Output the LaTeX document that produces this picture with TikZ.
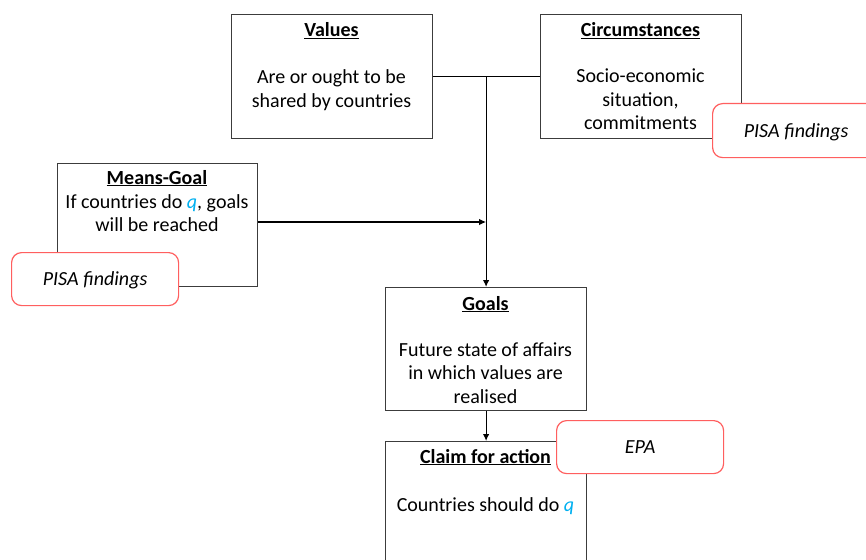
\documentclass[tikz,border=0pt]{standalone}
\usepackage{fontspec}
\setmainfont{Carlito}
\usetikzlibrary{arrows.meta}
\definecolor{qblue}{RGB}{0,176,240}
\definecolor{flagred}{RGB}{255,95,95}
\definecolor{edge}{RGB}{60,60,60}
% stacked, centred lines whose baseline is that of the first line
\newcommand{\lines}[1]{\begin{tabular}[t]{@{}c@{}}#1\end{tabular}}
\newcommand{\qq}{\textcolor{qblue}{\textit{q}}}
\tikzset{
  box/.style={draw=edge, line width=1.2pt, fill=white, inner sep=0pt, anchor=north west},
  flag/.style={draw=flagred, line width=1.2pt, rounded corners=10pt, fill=white,
               anchor=north west, inner sep=0pt, text height=13pt, text depth=0pt,
               font=\fontsize{20}{23.5}\selectfont\itshape},
  txt/.style={inner sep=0pt, anchor=base, font=\fontsize{20}{23.5}\selectfont},
  head/.style={txt, font=\fontsize{20}{23.5}\selectfont\bfseries},
  link/.style={line width=1.2pt, draw=black},
  arr/.style={link, -{Latex[length=7pt,width=6.5pt]}},
}
\begin{document}
\begin{tikzpicture}[x=1pt,y=-1pt]
\useasboundingbox (0,0) rectangle (866,559);
\clip (0,0) rectangle (866,559);

% frames
\node[box, minimum width=201pt, minimum height=124pt] (values) at (231,14) {};
\node[box, minimum width=201pt, minimum height=124pt] (circ)   at (540,14) {};
\node[box, minimum width=200pt, minimum height=123pt] (means)  at (57,163) {};
\node[box, minimum width=201pt, minimum height=123pt] (goals)  at (385,287) {};
\node[box, minimum width=201pt, minimum height=150pt] (claim)  at (385,441) {};

% texts
\node[head] (valuesT) at (331.5,37) {\underline{Values}};
\node[txt]  (valuesB) at (331.5,84) {\lines{Are or ought to be\\shared by countries}};
\node[head] (circT)   at (640.5,37) {\underline{Circumstances}};
\node[txt]  (circB)   at (640.5,83) {\lines{Socio-economic\\situation,\\commitments}};
\node[head] (meansT)  at (157,184) {\underline{Means-Goal}};
\node[txt]  (meansB)  at (157,208) {\lines{If countries do \qq, goals\\will be reached}};
\node[head] (goalsT)  at (485.5,310) {\underline{Goals}};
\node[txt]  (goalsB)  at (485.5,356) {\lines{Future state of affairs\\in which values are\\realised}};
\node[head] (claimT)  at (485.5,463) {\underline{Claim for action}};
\node[txt]  (claimB)  at (485.5,511) {Countries should do \qq};

% connectors
\coordinate (j) at (goals.north |- values.east);
\draw[link] (values.east) -- (circ.west);
\draw[arr] (j) -- (goals.north);
\draw[arr] (means.east |- 0,222) -- (j |- 0,222);
\draw[arr] (goals.south) -- (claim.north);

% evidence tags
\node[flag, minimum width=167pt, minimum height=53pt] (pisaL) at (11,252) {PISA findings};
\node[flag, minimum width=167pt, minimum height=54pt] (pisaR) at (712,103) {PISA findings};
\node[flag, minimum width=167pt, minimum height=53pt] (epa)   at (556,420) {EPA};
\end{tikzpicture}
\end{document}
